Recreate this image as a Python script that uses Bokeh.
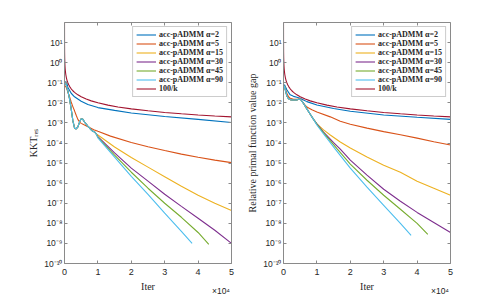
from bokeh.plotting import figure
from bokeh.models import (Range1d, FixedTicker, CustomJSTickFormatter, LinearAxis, LogAxis)
from bokeh.layouts import row
from bokeh.embed import file_html
from bokeh.resources import INLINE

# ---------------- data ----------------
labels = ["acc-pADMM α=2", "acc-pADMM α=5", "acc-pADMM α=15",
          "acc-pADMM α=30", "acc-pADMM α=45", "acc-pADMM α=90", "100/k"]
colors = ["#0072BD", "#D95319", "#EDB120", "#7E2F8E", "#77AC30", "#4DBEEE", "#A2142F"]

# 100/k reference curve (both panels)
ref_k = [1, 10, 30, 60, 100, 150, 200, 300, 400, 600, 800, 1000, 1300, 1600, 2000, 2500,
         3000, 4000, 5000, 6500, 8000, 10000, 13000, 16000, 20000, 25000, 30000, 35000,
         40000, 45000, 50000]
ref_v = [100, 10, 3.33, 1.67, 1.0, 0.667, 0.5, 0.333, 0.25, 0.167, 0.125, 0.1, 0.077, 0.0625,
         0.05, 0.04, 0.0333, 0.025, 0.02, 0.0154, 0.0125, 0.01, 0.0077, 0.00625, 0.005, 0.004,
         0.00333, 0.00286, 0.0025, 0.00222, 0.002]

# ---- left panel: KKT_res ----
kkt_a2_k = [100, 600, 1000, 2000, 3000, 5000, 7000, 10000, 15000, 20000, 30000, 40000, 50000]
kkt_a2_v = [0.09, 0.11, 0.06, 0.03, 0.02, 0.012, 0.0082, 0.0058, 0.0042, 0.0031, 0.0021, 0.0015, 0.00105]

kkt_a5_k = [100, 500, 1000, 1500, 2000, 2500, 3000, 3500, 4000, 4500, 5000, 6000, 7000, 8770,
            10000, 13770, 20000, 25000, 30000, 35000, 40000, 45000, 50000]
kkt_a5_v = [0.07, 0.06, 0.035, 0.02, 0.011, 0.0065, 0.004, 0.0024, 0.0015, 0.0011, 9.5e-4, 7.8e-4,
            6.5e-4, 4.6e-4, 3.8e-4, 2.2e-4, 1.05e-4, 6.5e-5, 4.2e-5, 2.8e-5, 1.95e-5, 1.4e-5, 1.05e-5]

kkt_early_k = [100, 500, 1000, 1500, 2000, 2500, 3000, 3500, 4000, 4500, 5000, 5500, 6000, 7000,
               8000, 8500, 9000, 9500]
kkt_early_v = [0.12, 0.08, 0.04, 0.016, 0.005, 1.3e-3, 5.6e-4, 5e-4, 6.3e-4, 1.1e-3, 1.6e-3,
               1.5e-3, 1.1e-3, 7e-4, 4.5e-4, 3.8e-4, 3.6e-4, 2.8e-4]

kkt_a15_k = [10000, 15000, 20000, 25000, 30000, 35000, 40000, 45000, 50000]
kkt_a15_v = [2.5e-4, 6.3e-5, 1.9e-5, 6.3e-6, 2.1e-6, 7e-7, 2.5e-7, 1e-7, 4.3e-8]
kkt_a30_k = [10000, 15000, 20000, 25000, 30000, 35000, 40000, 45000, 50000]
kkt_a30_v = [2.1e-4, 3.2e-5, 5.6e-6, 1.26e-6, 2.8e-7, 7e-8, 1.8e-8, 4.5e-9, 1e-9]
kkt_a45_k = [10000, 15000, 20000, 25000, 30000, 35000, 40000, 43200]
kkt_a45_v = [1.9e-4, 2.5e-5, 3.5e-6, 5.6e-7, 1e-7, 2e-8, 3.5e-9, 9e-10]
kkt_a90_k = [10000, 15000, 20000, 25000, 30000, 35000, 38200]
kkt_a90_v = [1.8e-4, 2e-5, 2.2e-6, 2.8e-7, 3.2e-8, 4e-9, 1e-9]

# ---- right panel: relative primal function value gap ----
gap_a2_k = [100, 300, 1000, 2000, 3000, 4000, 5000, 6000, 7000, 10000, 15000, 20000, 30000, 40000, 50000]
gap_a2_v = [0.06, 0.08, 0.045, 0.025, 0.021, 0.019, 0.017, 0.014, 0.0115, 0.0078, 0.0052, 0.0038,
            0.0025, 0.0019, 0.0015]

gap_a5_k = [100, 300, 1000, 1500, 2000, 3000, 4000, 5000, 6000, 7000, 8500, 10000, 14000, 17000,
            20000, 25000, 30000, 35000, 40000, 45000, 50000]
gap_a5_v = [0.05, 0.065, 0.03, 0.02, 0.017, 0.015, 0.015, 0.016, 0.0095, 0.0062, 0.0045, 0.0035,
            0.002, 0.0012, 8.5e-4, 5.5e-4, 3.7e-4, 2.6e-4, 1.75e-4, 1.15e-4, 8e-5]

gap_early_k = [100, 300, 600, 1000, 1500, 2000, 2500, 3000, 3500, 4000, 4500, 5000, 5500, 6000,
               7000, 8000, 9000]
gap_early_v = [0.05, 0.07, 0.04, 0.022, 0.016, 0.0145, 0.014, 0.0138, 0.0138, 0.014, 0.015,
               0.0155, 0.012, 0.0093, 0.005, 0.0027, 0.0015]

gap_a15_k = [10000, 12000, 14000, 17000, 20000, 25000, 30000, 35000, 40000, 45000, 50000]
gap_a15_v = [8.9e-4, 4.5e-4, 2.5e-4, 1.12e-4, 5.6e-5, 2e-5, 7.9e-6, 3.5e-6, 1.26e-6, 5.6e-7, 2.5e-7]
gap_a30_k = [10000, 12000, 15000, 17000, 20000, 25000, 30000, 35000, 40000, 45000, 50000]
gap_a30_v = [8.9e-4, 3.5e-4, 1.05e-4, 5e-5, 1.4e-5, 2.5e-6, 5e-7, 1.26e-7, 3.5e-8, 1.1e-8, 3.5e-9]
gap_a45_k = [10000, 12000, 16000, 20000, 25000, 30000, 35000, 40000, 43200]
gap_a45_v = [8.5e-4, 3.2e-4, 5.2e-5, 8.9e-6, 1.4e-6, 2.5e-7, 5e-8, 1e-8, 2.8e-9]
gap_a90_k = [10000, 12000, 15500, 20000, 25000, 30000, 35000, 38200]
gap_a90_v = [7.9e-4, 2.8e-4, 5e-5, 5.6e-6, 6.3e-7, 7.9e-8, 1e-8, 2.5e-9]

x_ticks = [0, 10000, 20000, 30000, 40000, 50000]
y_ticks = [10.0 ** e for e in range(-10, 2)]
exp_tick = [46850]          # where the "×10⁴" multiplier text sits (centre)

AX_COL = "#8a8a8a"
TXT_COL = "#262626"
SERIF = "Liberation Serif"
SANS = "Liberation Sans"

yfmt_code = """
const e = Math.round(Math.log10(tick));
const m = {'-':'⁻','0':'⁰','1':'¹','2':'²','3':'³','4':'⁴','5':'⁵','6':'⁶','7':'⁷','8':'⁸','9':'⁹'};
return '10' + String(e).split('').map(c => m[c]).join('');
"""
xfmt_code = "return (tick/10000).toFixed(0);"
blank_code = "return '';"
mult_code = "return '×10⁴';"


def style_axis(ax, size="8.5px"):
    ax.axis_line_color = AX_COL
    ax.major_tick_line_color = AX_COL
    ax.major_tick_in = 3
    ax.major_tick_out = 0
    ax.minor_tick_line_color = None
    ax.major_label_text_color = TXT_COL
    ax.major_label_text_font = SANS
    ax.major_label_text_font_size = size


def make_fig(series, ylabel, width, bl, br):
    p = figure(width=width, height=298, x_range=Range1d(0, 50000), y_range=Range1d(1e-10, 1e2),
               y_axis_type="log", output_backend="svg", toolbar_location=None,
               min_border_left=bl, min_border_right=br, min_border_top=22, min_border_bottom=32)
    p.grid.visible = False
    p.outline_line_color = None
    for (k, v), lab, col in zip(series, labels, colors):
        p.line(k, v, line_color=col, line_width=1.1, legend_label=lab)

    p.xaxis.ticker = FixedTicker(ticks=x_ticks)
    p.xaxis.formatter = CustomJSTickFormatter(code=xfmt_code)
    p.yaxis.ticker = FixedTicker(ticks=y_ticks)
    p.yaxis.formatter = CustomJSTickFormatter(code=yfmt_code)
    for ax in p.xaxis + p.yaxis:
        style_axis(ax)
        ax.axis_label_text_font = SERIF
        ax.axis_label_text_font_style = "normal"
        ax.axis_label_text_color = TXT_COL
    p.yaxis.major_label_standoff = 2
    p.yaxis.axis_label_standoff = 2
    p.xaxis.major_label_standoff = 5
    p.xaxis.axis_label_standoff = 3
    p.xaxis.major_label_text_font_size = "9px"
    p.xaxis.axis_label = "Iter"
    p.xaxis.axis_label_text_font_size = "10px"
    p.yaxis.axis_label = ylabel
    p.yaxis.axis_label_text_font_size = "10px"

    # exponent multiplier under the right end of the x axis
    mult = LinearAxis(ticker=FixedTicker(ticks=exp_tick),
                      formatter=CustomJSTickFormatter(code=mult_code))
    mult.axis_line_color = None
    mult.major_tick_line_color = None
    mult.minor_tick_line_color = None
    mult.major_tick_in = 0
    mult.major_tick_out = 0
    mult.major_label_standoff = -9
    mult.major_label_text_font = SANS
    mult.major_label_text_font_size = "8.5px"
    mult.major_label_text_color = TXT_COL
    p.add_layout(mult, "below")

    top = LinearAxis(ticker=FixedTicker(ticks=x_ticks),
                     formatter=CustomJSTickFormatter(code=blank_code))
    style_axis(top)
    top.major_label_standoff = 0
    p.add_layout(top, "above")
    right = LogAxis(ticker=FixedTicker(ticks=y_ticks),
                    formatter=CustomJSTickFormatter(code=blank_code))
    style_axis(right)
    right.major_label_standoff = 0
    p.add_layout(right, "right")

    lg = p.legend[0]
    lg.location = "top_right"
    lg.margin = 4
    lg.padding = 3
    lg.spacing = 0
    lg.glyph_width = 20
    lg.glyph_height = 9
    lg.label_height = 9
    lg.label_standoff = 3
    lg.label_text_font = SERIF
    lg.label_text_font_style = "bold"
    lg.label_text_font_size = "8px"
    lg.label_text_color = TXT_COL
    lg.border_line_color = "#9a9a9a"
    lg.border_line_width = 1
    lg.background_fill_alpha = 1.0
    return p


left_series = [
    (kkt_a2_k, kkt_a2_v),
    (kkt_a5_k, kkt_a5_v),
    (kkt_early_k + kkt_a15_k, kkt_early_v + kkt_a15_v),
    (kkt_early_k + kkt_a30_k, kkt_early_v + kkt_a30_v),
    (kkt_early_k + kkt_a45_k, kkt_early_v + kkt_a45_v),
    (kkt_early_k + kkt_a90_k, kkt_early_v + kkt_a90_v),
    (ref_k, ref_v),
]
right_series = [
    (gap_a2_k, gap_a2_v),
    (gap_a5_k, gap_a5_v),
    (gap_early_k + gap_a15_k, gap_early_v + gap_a15_v),
    (gap_early_k + gap_a30_k, gap_early_v + gap_a30_v),
    (gap_early_k + gap_a45_k, gap_early_v + gap_a45_v),
    (gap_early_k + gap_a90_k, gap_early_v + gap_a90_v),
    (ref_k, ref_v),
]

p1 = make_fig(left_series, "KKTᵣₑₛ", 242, 64, 11)
p2 = make_fig(right_series, "Relative primal function value gap", 238, 41, 30)

layout = row(p1, p2)
open("out.html", "w").write(file_html(layout, INLINE))
